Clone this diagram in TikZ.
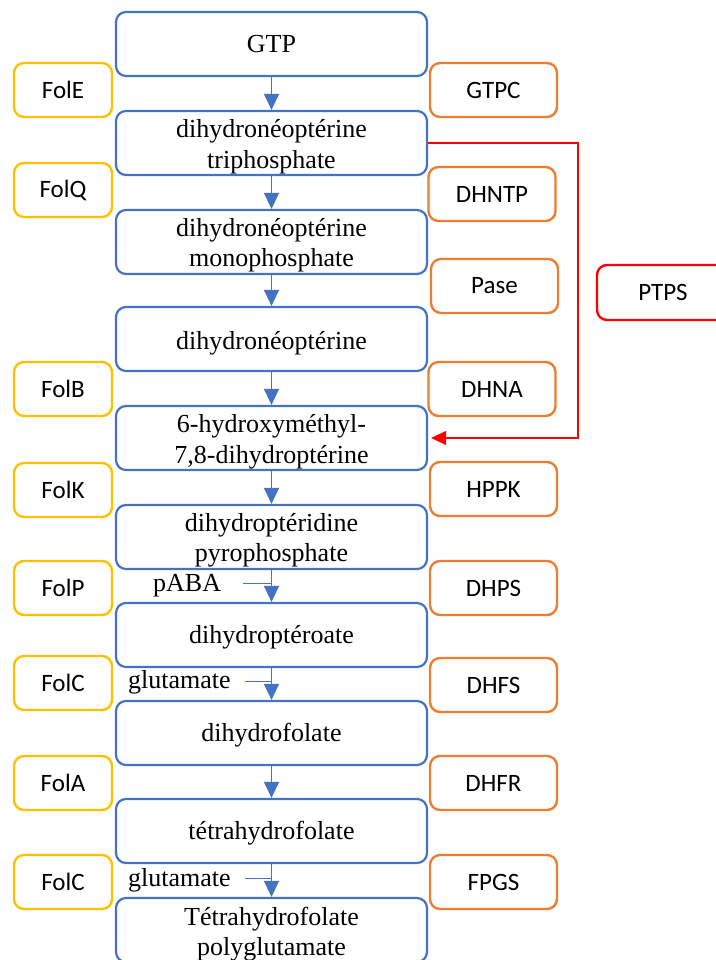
\documentclass[tikz,border=0pt]{standalone}
\usepackage{fontspec}
\setmainfont{Liberation Serif}
\newfontfamily\enzfont{Carlito}
\usetikzlibrary{arrows.meta}
\definecolor{mblue}{HTML}{4472C4}
\definecolor{morange}{HTML}{ED7D31}
\definecolor{myellow}{HTML}{FFC000}
\definecolor{mred}{HTML}{FF0000}
\tikzset{
  mainbox/.style={draw=mblue, line width=2.2pt, rounded corners=10pt, minimum width=311pt, minimum height=64pt, inner sep=0pt},
  mtext/.style={anchor=base, inner sep=0pt, font=\fontsize{26}{31}\selectfont},
  enzL/.style={draw=myellow, line width=2.4pt, rounded corners=10pt, minimum width=98pt, minimum height=54pt, inner sep=0pt, font=\enzfont\fontsize{25}{30}\selectfont},
  enzR/.style={draw=morange, line width=2.4pt, rounded corners=10pt, minimum width=127pt, minimum height=54pt, inner sep=0pt, font=\enzfont\fontsize{25}{30}\selectfont},
  enzX/.style={draw=mred, line width=2.4pt, rounded corners=10pt, minimum width=132pt, minimum height=55pt, inner sep=0pt, font=\enzfont\fontsize{25}{30}\selectfont},
  flow/.style={draw=mblue, line width=1.4pt, -{Triangle[length=16pt,width=15pt]}},
  side/.style={draw=mblue, line width=1pt},
  redflow/.style={draw=mred, line width=1.1pt, -{Triangle[length=15pt,width=14pt]}, shorten >=3pt},
}
\begin{document}
\begin{tikzpicture}[x=1pt,y=-1pt]
\useasboundingbox (0,0) rectangle (715,960);
% main boxes
\node[mainbox] (b1) at (271.5,44) {};
\node[mainbox] (b2) at (271.5,143) {};
\node[mainbox] (b3) at (271.5,242) {};
\node[mainbox] (b4) at (271.5,339) {};
\node[mainbox] (b5) at (271.5,438) {};
\node[mainbox] (b6) at (271.5,537) {};
\node[mainbox] (b7) at (271.5,635) {};
\node[mainbox] (b8) at (271.5,733) {};
\node[mainbox] (b9) at (271.5,831) {};
\node[mainbox] (b10) at (271.5,930) {};
% texts
\node[mtext] (t1) at (271.5,53) {GTP};
\node[mtext] (t2a) at (271.5,138) {dihydronéoptérine};
\node[mtext] (t2b) at (271.5,168) {triphosphate};
\node[mtext] (t3a) at (271.5,236) {dihydronéoptérine};
\node[mtext] (t3b) at (271.5,266) {monophosphate};
\node[mtext] (t4) at (271.5,349) {dihydronéoptérine};
\node[mtext] (t5a) at (271.5,432) {6-hydroxyméthyl-};
\node[mtext] (t5b) at (271.5,463) {7,8-dihydroptérine};
\node[mtext] (t6a) at (271.5,531) {dihydroptéridine};
\node[mtext] (t6b) at (271.5,561) {pyrophosphate};
\node[mtext] (t7) at (271.5,643) {dihydroptéroate};
\node[mtext] (t8) at (271.5,741) {dihydrofolate};
\node[mtext] (t9) at (271.5,839) {tétrahydrofolate};
\node[mtext] (t10a) at (271.5,925) {Tétrahydrofolate};
\node[mtext] (t10b) at (271.5,955) {polyglutamate};
% flow arrows
\draw[flow] (b1.south) -- (b2.north);
\draw[flow] (b2.south) -- (b3.north);
\draw[flow] (b3.south) -- (b4.north);
\draw[flow] (b4.south) -- (b5.north);
\draw[flow] (b5.south) -- (b6.north);
\draw[flow] (b6.south) -- (b7.north);
\draw[flow] (b7.south) -- (b8.north);
\draw[flow] (b8.south) -- (b9.north);
\draw[flow] (b9.south) -- (b10.north);
% co-substrates
\node[mtext, anchor=base west] (pABA) at (153,591) {pABA};
\coordinate (pa) at (243,583);
\draw[side] (pa) -- (pa -| b6.south);
\node[mtext, anchor=base west] (glu1) at (128,688) {glutamate};
\coordinate (g1) at (245,681);
\draw[side] (g1) -- (g1 -| b7.south);
\node[mtext, anchor=base west] (glu2) at (128,886) {glutamate};
\coordinate (g2) at (245,878);
\draw[side] (g2) -- (g2 -| b9.south);
% left enzymes
\node[enzL] (folE) at (63,90) {FolE};
\node[enzL] (folQ) at (63,190) {FolQ};
\node[enzL] (folB) at (63,389) {FolB};
\node[enzL] (folK) at (63,490) {FolK};
\node[enzL] (folP) at (63,588) {FolP};
\node[enzL] (folC1) at (63,683) {FolC};
\node[enzL] (folA) at (63,783) {FolA};
\node[enzL] (folC2) at (63,882) {FolC};
% right enzymes
\node[enzR] (gtpc) at (493.5,90) {GTPC};
\node[enzR] (dhntp) at (492,194) {DHNTP};
\node[enzR] (pase) at (494.5,286) {Pase};
\node[enzR] (dhna) at (492,389) {DHNA};
\node[enzR] (hppk) at (493.5,489) {HPPK};
\node[enzR] (dhps) at (493.5,588) {DHPS};
\node[enzR] (dhfs) at (493.5,685) {DHFS};
\node[enzR] (dhfr) at (493.5,783) {DHFR};
\node[enzR] (fpgs) at (493.5,882) {FPGS};
% PTPS bypass
\node[enzX] (ptps) at (663,292.5) {PTPS};
\coordinate (rc) at (578,290);
\draw[redflow] (b2.east) -| (rc) |- (b5.east);
\end{tikzpicture}
\end{document}
